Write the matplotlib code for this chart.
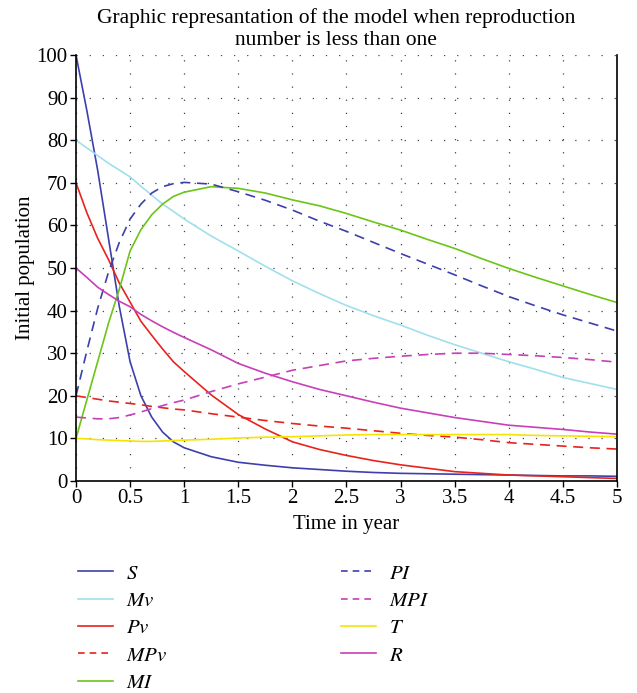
import numpy as np
import matplotlib
matplotlib.use("Agg")
import matplotlib.pyplot as plt
from matplotlib.lines import Line2D

plt.rcParams['font.family'] = ['Liberation Serif', 'DejaVu Serif']
plt.rcParams['mathtext.fontset'] = 'stix'

# time points (years)
t = [0, 0.1, 0.2, 0.3, 0.4, 0.5, 0.6, 0.7, 0.8, 0.9, 1.0, 1.25, 1.5, 1.75,
     2.0, 2.25, 2.5, 2.75, 3.0, 3.25, 3.5, 3.75, 4.0, 4.25, 4.5, 4.75, 5.0]

S = [100, 87, 73, 57, 41, 28, 20, 15, 11.5, 9.2, 7.8, 5.7, 4.4, 3.7,
     3.1, 2.7, 2.3, 2.0, 1.8, 1.7, 1.6, 1.5, 1.4, 1.3, 1.2, 1.2, 1.1]
Mv = [80, 78.2, 76.4, 74.6, 73.0, 71.4, 69.2, 67.1, 65.0, 63.3, 61.5, 57.5, 54.0, 50.4,
      47.0, 44.0, 41.2, 38.8, 36.6, 34.2, 32.0, 30.0, 28.0, 26.2, 24.3, 22.9, 21.5]
Pv = [70, 63, 57, 52, 46.5, 42, 37.5, 34.2, 31.0, 28.0, 25.7, 20.2, 15.6, 12.2,
      9.2, 7.4, 6.0, 4.8, 3.8, 3.0, 2.2, 1.8, 1.4, 1.2, 1.0, 0.8, 0.6]
MPv = [20, 19.6, 19.2, 18.8, 18.5, 18.2, 17.9, 17.5, 17.2, 16.9, 16.7, 15.8, 15.0, 14.2,
       13.5, 12.9, 12.4, 11.8, 11.2, 10.7, 10.3, 9.7, 9.0, 8.6, 8.2, 7.8, 7.5]
MI = [10, 19, 28, 37, 45, 54, 59, 62.5, 65, 66.8, 67.8, 69.1, 68.7, 67.6,
      66.0, 64.6, 62.8, 60.8, 58.9, 56.7, 54.6, 52.2, 49.9, 47.8, 45.8, 43.8, 41.9]
PI = [20, 30.5, 40.5, 49, 56, 61.5, 65, 67.6, 69.1, 69.8, 70.1, 69.7, 67.9, 65.9,
      63.6, 61.0, 58.6, 56.0, 53.4, 50.9, 48.4, 45.8, 43.3, 41.1, 39.0, 37.1, 35.2]
MPI = [15, 14.8, 14.6, 14.6, 14.9, 15.5, 16.2, 17.0, 17.7, 18.4, 19.0, 21.0, 22.8, 24.4,
       26.0, 27.1, 28.2, 28.8, 29.3, 29.7, 30.0, 30.0, 29.7, 29.4, 29.0, 28.5, 27.9]
T = [10, 9.9, 9.7, 9.6, 9.5, 9.4, 9.3, 9.3, 9.4, 9.5, 9.6, 9.8, 10.1, 10.3,
     10.4, 10.6, 10.8, 10.9, 10.9, 10.9, 10.9, 10.9, 10.9, 10.7, 10.6, 10.5, 10.4]
R = [50, 47.8, 45.5, 43.8, 42.2, 40.9, 39.1, 37.6, 36.2, 34.9, 33.7, 30.8, 27.6, 25.3,
     23.3, 21.5, 20.0, 18.5, 17.1, 16.0, 14.9, 14.0, 13.1, 12.6, 12.1, 11.5, 11.0]

series = [
    ("S", S, "#3d3fae", "-"),
    ("Mv", Mv, "#9fe0ec", "-"),
    ("Pv", Pv, "#e8231c", "-"),
    ("MPv", MPv, "#e8231c", "--"),
    ("MI", MI, "#6cc417", "-"),
    ("PI", PI, "#3d3fae", "--"),
    ("MPI", MPI, "#c83fb8", "--"),
    ("T", T, "#f5e400", "-"),
    ("R", R, "#c83fb8", "-"),
]
labels = ["$S$", "$Mv$", "$Pv$", "$MPv$", "$MI$", "$PI$", "$MPI$", "$T$", "$R$"]
xticklabels = ["0", "0.5", "1", "1.5", "2", "2.5", "3", "3.5", "4", "4.5", "5"]

fig = plt.figure(figsize=(6.37, 6.93), dpi=100)
ax = fig.add_axes([0.1193, 0.3059, 0.8493, 0.6147])

for name, vals, col, ls in series:
    if ls == "--":
        ax.plot(t, vals, color=col, lw=1.2, dashes=(6, 4))
    else:
        ax.plot(t, vals, color=col, lw=1.2)

ax.set_xlim(0, 5)
ax.set_ylim(0, 100)
ax.set_xticks(np.arange(0, 5.01, 0.5))
ax.set_xticklabels(xticklabels)
ax.set_yticks(np.arange(0, 101, 10))
ax.tick_params(direction="out", length=4, width=1, labelsize=15, pad=2)
ax.grid(True, color="#444444", lw=0.9, linestyle=(0, (1, 9.5)))
ax.spines["top"].set_visible(False)
for s in ["left", "bottom", "right"]:
    ax.spines[s].set_linewidth(1.2)

# title sits a bit left of the axes centre in the reference
fig.text(0.527, 0.988, "Graphic represantation of the model when reproduction\nnumber is less than one",
         fontsize=15.5, ha="center", va="top", linespacing=1.22)
ax.set_xlabel("Time in year", fontsize=15, labelpad=5)
ax.set_ylabel("Initial population", fontsize=15, labelpad=1)

handles = []
for name, vals, col, ls in series:
    h = Line2D([], [], color=col, lw=1.2)
    if ls == "--":
        h.set_dashes((4, 3))
    handles.append(h)

leg = fig.legend(handles, labels, loc="upper left", bbox_to_anchor=(0.1225, 0.186),
                 ncol=2, frameon=False, fontsize=15, handlelength=1.7,
                 handletextpad=0.62, columnspacing=8.3, labelspacing=0.37,
                 borderpad=0, borderaxespad=0)

fig.savefig("out.png", dpi=100)
